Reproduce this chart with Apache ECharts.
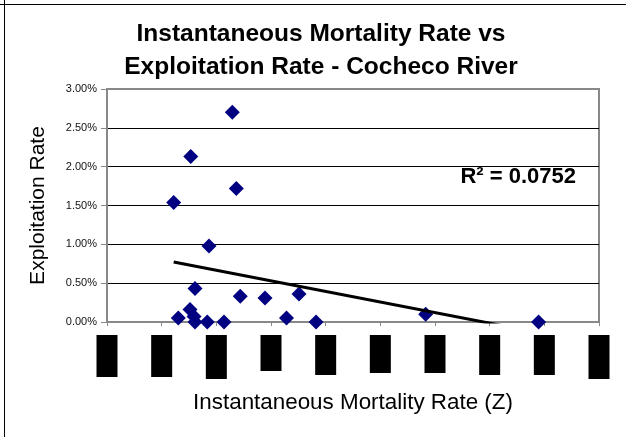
<!DOCTYPE html>
<html>
<head>
<meta charset="utf-8">
<script src="https://cdn.jsdelivr.net/npm/echarts@6/dist/echarts.min.js"></script>
<style>
  html, body { margin: 0; padding: 0; background: #fff; }
  #main { width: 626px; height: 437px; }
</style>
</head>
<body>
<div id="main"></div>
<script>
// Z (instantaneous mortality) vs exploitation rate (%)
const zValues = [0.610, 0.766, 1.146, 1.183, 0.933, 0.805, 0.652, 0.759, 0.796, 0.805,
                 0.917, 1.070, 1.219, 1.445, 1.756, 1.642, 1.912, 2.915, 3.947]
const exploitPct = [1.54, 2.13, 2.70, 1.72, 0.98, 0.43, 0.05, 0.16, 0.07, 0.00,
                    0.00, 0.00, 0.33, 0.31, 0.36, 0.05, 0.00, 0.10, 0.00]
const xTicks = [0, 0.5, 1, 1.5, 2, 2.5, 3, 3.5, 4, 4.5]
const rSquaredText = 'R² = 0.0752'

// the x tick labels show up as black blocks in the original
const blockHeights = [42, 42, 44, 36, 40, 38, 38, 40, 40, 44]

// least squares trend line
const n = zValues.length
const mx = zValues.reduce((a, b) => a + b, 0) / n
const my = exploitPct.reduce((a, b) => a + b, 0) / n
let sxy = 0, sxx = 0
for (let i = 0; i < n; i++) {
    sxy += (zValues[i] - mx) * (exploitPct[i] - my)
    sxx += (zValues[i] - mx) * (zValues[i] - mx)
}
const slope = sxy / sxx
const icpt = my - slope * mx
const xLo = Math.min(...zValues)
const xHi = Math.max(...zValues)
const trend = [[xLo, icpt + slope * xLo], [xHi, icpt + slope * xHi]]

const rich = {}
blockHeights.forEach((h, i) => {
    rich['b' + i] = { width: 21, height: h, backgroundColor: '#000', color: '#000', fontSize: 9, align: 'center' }
})

const myChart = echarts.init(document.getElementById('main'))
const font = 'Liberation Sans, Arial, sans-serif'

myChart.setOption({
    animation: false,
    textStyle: { fontFamily: font },
    title: {
        text: 'Instantaneous Mortality Rate vs\nExploitation Rate - Cocheco River',
        left: 316,
        top: 13,
        textAlign: 'center',
        textStyle: { fontSize: 24.5, fontWeight: 'bold', color: '#000', lineHeight: 33, fontFamily: font }
    },
    grid: {
        left: 107, right: 27, top: 89, bottom: 115,
        show: true, borderColor: '#888', borderWidth: 2, backgroundColor: '#fff'
    },
    xAxis: {
        type: 'value',
        min: 0, max: 4.5, interval: 0.5,
        name: 'Instantaneous Mortality Rate (Z)',
        nameLocation: 'middle',
        nameGap: 70,
        nameTextStyle: { fontSize: 22.4, color: '#000', fontFamily: font },
        axisLine: { lineStyle: { color: '#888', width: 2 } },
        axisTick: { show: true, length: 4, lineStyle: { color: '#888', width: 1 } },
        splitLine: { show: false },
        axisLabel: {
            margin: 13,
            formatter: function (v) {
                const i = Math.round(v / 0.5)
                return '{b' + i + '|' + xTicks[i] + '}'
            },
            rich: rich
        }
    },
    yAxis: {
        type: 'value',
        min: 0, max: 3, interval: 0.5,
        name: 'Exploitation Rate',
        nameLocation: 'middle',
        nameGap: 58,
        nameTextStyle: { fontSize: 21, color: '#000', fontFamily: font },
        axisLine: { show: true, lineStyle: { color: '#888', width: 2 } },
        axisTick: { show: true, length: 6, lineStyle: { color: '#888', width: 1 } },
        splitLine: { show: true, showMinLine: false, showMaxLine: false, lineStyle: { color: '#000', width: 1 } },
        axisLabel: {
            margin: 10,
            fontSize: 11,
            color: '#111',
            formatter: function (v) { return v.toFixed(2) + '%' }
        }
    },
    graphic: [
        { type: 'line', shape: { x1: 4.5, y1: 0, x2: 4.5, y2: 437 }, style: { stroke: '#000', lineWidth: 1 } },
        { type: 'line', shape: { x1: 0, y1: 4.5, x2: 626, y2: 4.5 }, style: { stroke: '#000', lineWidth: 1 } },
        {
            type: 'text', right: 50, top: 166, z: 10,
            style: { text: rSquaredText, fontSize: 22, fontWeight: 'bold', fill: '#000', fontFamily: font }
        }
    ],
    series: [
        {
            type: 'scatter',
            symbol: 'diamond',
            symbolSize: 15,
            itemStyle: { color: '#000080', opacity: 1 },
            data: zValues.map((x, i) => [x, exploitPct[i]]),
            z: 3
        },
        {
            type: 'line',
            data: trend,
            symbol: 'none',
            clip: true,
            lineStyle: { color: '#000', width: 3 },
            z: 4
        }
    ]
})
</script>
</body>
</html>
